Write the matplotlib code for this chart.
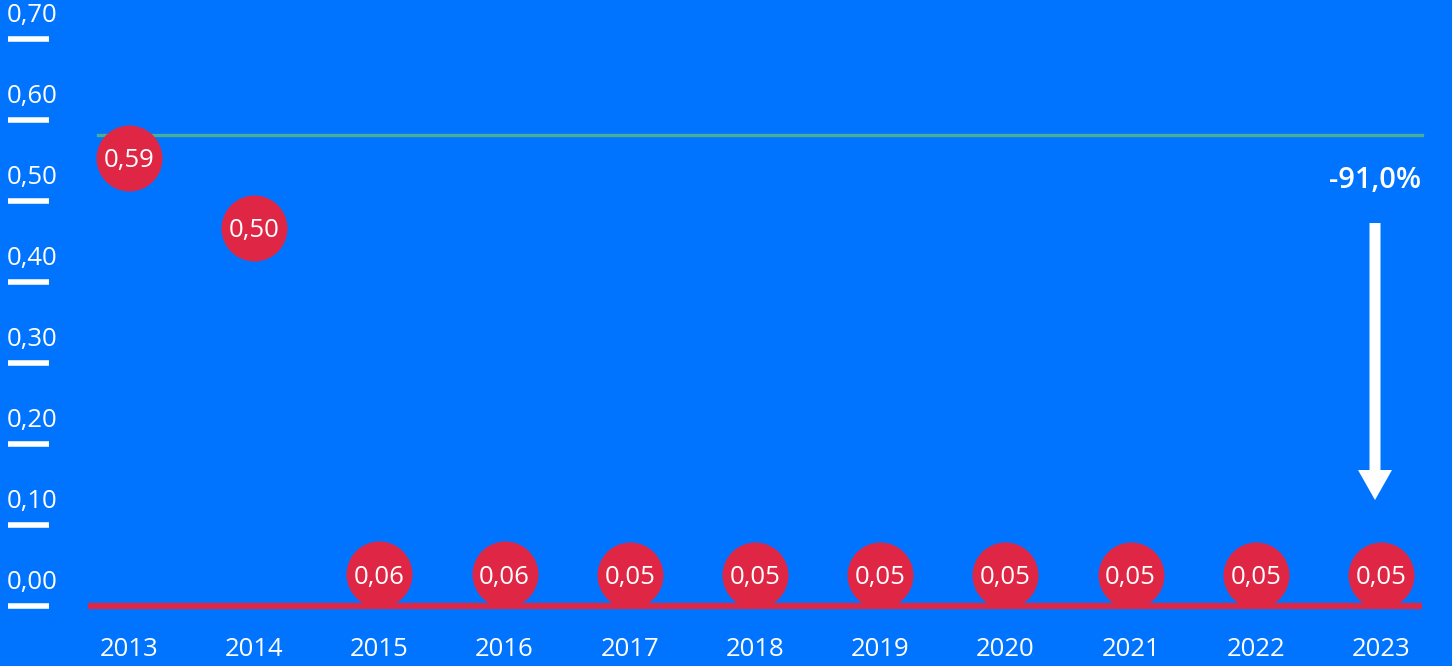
import matplotlib.pyplot as plt
from matplotlib.patches import FancyArrow

plt.rcParams['font.family'] = ['Open Sans', 'DejaVu Sans']

years = [2013, 2014, 2015, 2016, 2017, 2018, 2019, 2020, 2021, 2022, 2023]
values = [0.59, 0.50, 0.055, 0.055, 0.054, 0.054, 0.054, 0.054, 0.054, 0.054, 0.054]
labels = ['0,59', '0,50', '0,06', '0,06', '0,05', '0,05', '0,05', '0,05', '0,05', '0,05', '0,05']
tick_vals = [0.0, 0.1, 0.2, 0.3, 0.4, 0.5, 0.6, 0.7]
tick_labels = ['0,00', '0,10', '0,20', '0,30', '0,40', '0,50', '0,60', '0,70']
ref_level = 0.582
change = '-91,0%'

BG = '#0074FF'
RED = '#DF2645'
GREEN = '#45AF97'

fig = plt.figure(figsize=(14.52, 6.66), dpi=100)
fig.patch.set_facecolor(BG)

# axis for the scale (ticks, baseline, reference line, arrow)
axs = fig.add_axes([0, 0, 1, 1])
axs.set_facecolor(BG)
axs.set_xlim(0, 1452)
axs.set_ylim(-60 / 810, 606 / 810)
axs.axis('off')

# axis for the bubbles
ax = fig.add_axes([0, 0, 1, 1])
ax.patch.set_alpha(0)
x0 = 2013 - 129 / 125.2
ax.set_xlim(x0, x0 + 1452 / 125.2)
ax.set_ylim(-49 / 778, 617 / 778)
ax.axis('off')

for v, lab in zip(tick_vals, tick_labels):
    axs.plot([8, 49], [v, v], color='white', lw=4, solid_capstyle='butt')
    axs.text(7, v + 0.021, lab, color='white', fontsize=18.5, ha='left', va='baseline')

axs.plot([98, 1422], [ref_level, ref_level], color=GREEN, lw=2.4)
axs.plot([88, 1422], [0, 0], color=RED, lw=4.5, solid_capstyle='butt')

ax.plot(years, values, 'o', color=RED, markersize=47.5, markeredgewidth=0, zorder=3)
for yr, v, lab in zip(years, values, labels):
    ax.text(yr, v, lab, color='white', fontsize=18.5, ha='center',
            va='center_baseline', zorder=4)
for yr in years:
    ax.text(yr, -0.0424, str(yr), color='white', fontsize=18.5, ha='center', va='center')

# arrow
top = (606 - 223) / 810
tip = (606 - 500) / 810
axs.add_patch(FancyArrow(1375, top, 0, tip - top, width=11, head_width=34,
                         head_length=30 / 810, length_includes_head=True,
                         color='white', lw=0))
axs.text(1375, (606 - 180) / 810, change, color='white', fontsize=21,
         fontweight='semibold', ha='center', va='center')

fig.savefig('out.png', dpi=100, facecolor=BG)
